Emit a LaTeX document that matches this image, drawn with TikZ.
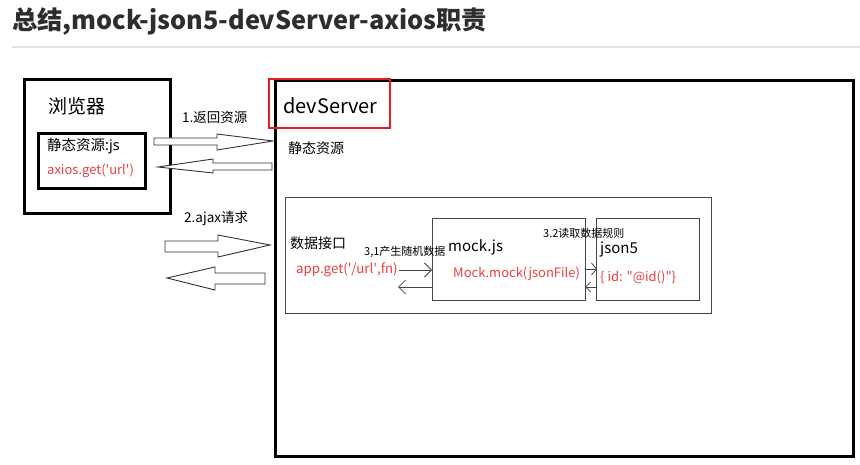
\documentclass[tikz,border=0pt]{standalone}
\usepackage{fontspec}
\setmainfont{Noto Sans CJK SC}
\newfontfamily\latinfont{Noto Sans}
\usetikzlibrary{arrows.meta}
\definecolor{txtred}{RGB}{238,64,64}
\definecolor{boxred}{RGB}{228,30,30}
\definecolor{titlegray}{RGB}{45,45,45}
\definecolor{thingray}{RGB}{70,70,70}
\newcommand{\sq}{\textquotesingle}
\newcommand{\dq}{\textquotedbl}
\tikzset{
  thickbox/.style={draw=black,line width=3pt,minimum width=#1,anchor=north west,inner sep=0pt},
  thinbox/.style={draw=thingray,line width=1pt,anchor=north west,inner sep=0pt},
  lbl/.style={anchor=west,inner sep=0pt,text=black},
  redlbl/.style={anchor=west,inner sep=0pt,text=txtred},
  hollow/.style={draw=black!80,line width=0.9pt,fill=white,line join=miter},
  small/.style={draw=thingray,line width=0.8pt,-{Straight Barb[length=7pt,width=14pt,line width=0.8pt]}},
}
\begin{document}
\begin{tikzpicture}[x=1pt,y=-1pt]
\useasboundingbox (0,0) rectangle (860,465);
\fill[white] (0,0) rectangle (860,465);
% title
\node[anchor=west,inner sep=0pt,text=titlegray,font=\fontsize{25.3}{28}\selectfont\bfseries] (title) at (12,21) {总结,mock-json5-devServer-axios职责};
\draw[black!10,line width=1.2pt] (12,47) -- (860,47);

% browser
\node[thickbox=146pt,minimum height=134pt] (browser) at (23,78) {};
\node[lbl,font=\fontsize{19}{22}\selectfont] (browsertxt) at (48,106) {浏览器};
\node[thickbox=107pt,minimum height=55pt] (static) at (37,132) {};
\node[lbl,font=\fontsize{14.5}{17}\selectfont] (statictxt) at (47,146) {静态资源{\latinfont :js}};
\node[redlbl,font=\fontsize{13}{15}\selectfont] (axios) at (47,171) {axios.get(\sq url\sq)};

% devServer
\node[thickbox=578pt,minimum height=376pt] (server) at (274,79) {};
\node[draw=boxred,line width=2pt,minimum width=121pt,minimum height=49pt,anchor=north west,inner sep=0pt] (redbox) at (268,78) {};
\node[lbl,font=\fontsize{20}{23}\selectfont] (devtxt) at (283,106) {devServer};
\node[lbl,font=\fontsize{14}{16}\selectfont] (srvstatic) at (288,148) {静态资源};

% data interface
\node[thinbox,minimum width=426pt,minimum height=116pt] (api) at (285,197) {};
\node[lbl,font=\fontsize{14}{16}\selectfont] (apitxt) at (290,243) {数据接口};
\node[redlbl,font=\fontsize{13.3}{15}\selectfont] (appget) at (296,270) {app.get(\sq/url\sq,fn)};

\node[thinbox,minimum width=153pt,minimum height=82pt] (mock) at (432,218) {};
\node[lbl,font=\fontsize{15}{17}\selectfont] (mocktxt) at (448,247) {mock.js};
\node[redlbl,font=\fontsize{13}{15}\selectfont] (mockmock) at (453,274) {Mock.mock(jsonFile)};

\node[thinbox,minimum width=103pt,minimum height=82pt] (json) at (596,218) {};
\node[lbl,font=\fontsize{15}{17}\selectfont] (jsontxt) at (600,250) {json5};
\node[redlbl,font=\fontsize{13}{15}\selectfont] (jsonid) at (600,277) {\{ id: \dq @id()\dq\}};

\node[lbl,font=\fontsize{11}{12}\selectfont] (l31) at (364,252) {3,1产生随机数据};
\node[lbl,font=\fontsize{11}{12}\selectfont] (l32) at (543,233) {3.2读取数据规则};

% small arrows
\coordinate (a1s) at (399,270);
\coordinate (a1e) at (432,270);
\coordinate (a2s) at (432,287);
\coordinate (a2e) at (398,287);
\coordinate (a3s) at (585,269);
\coordinate (a3e) at (597,269);
\coordinate (a4s) at (597,287);
\coordinate (a4e) at (585,287);
\draw[small] (a1s) -- (a1e);
\draw[small] (a2s) -- (a2e);
\draw[small,-{Straight Barb[length=5pt,width=12pt,line width=0.8pt]}] (a3s) -- (a3e);
\draw[small,-{Straight Barb[length=5pt,width=10pt,line width=0.8pt]}] (a4s) -- (a4e);

% labels on hollow arrows
\node[lbl,font=\fontsize{13.5}{15}\selectfont] (ret) at (182,117) {1.返回资源};
\node[lbl,font=\fontsize{13.5}{15}\selectfont] (ajax) at (184,218) {2.ajax请求};

% hollow arrows
\draw[hollow] (154,138) -- (217,138) -- (217,134) -- (273,141) -- (217,150) -- (217,145) -- (154,145) -- cycle;
\draw[hollow] (272,163) -- (213,163) -- (213,159) -- (158,167) -- (213,173) -- (213,170) -- (272,170) -- cycle;
\draw[hollow] (165,241) -- (218,241) -- (218,235) -- (270,245) -- (218,257) -- (218,252) -- (165,252) -- cycle;
\draw[hollow] (265,273) -- (215,273) -- (215,267) -- (167,278) -- (215,290) -- (215,284) -- (265,284) -- cycle;
\end{tikzpicture}
\end{document}
